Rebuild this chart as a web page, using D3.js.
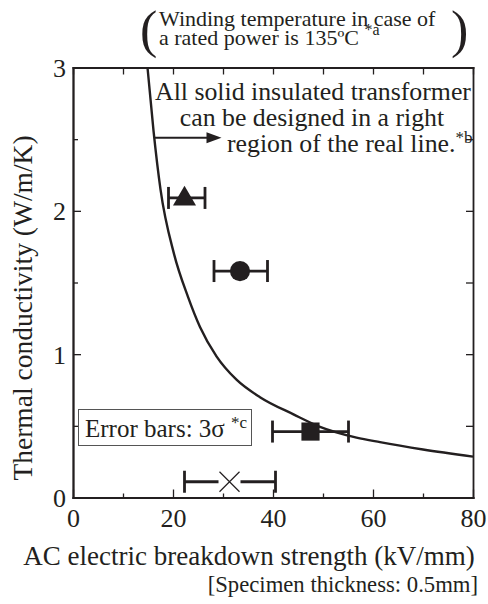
<!DOCTYPE html>
<html>
<head>
<meta charset="utf-8">
<script src="https://cdn.jsdelivr.net/npm/d3@7"></script>
<style>
body { margin: 0; background: #fff; }
.chart { width: 488px; height: 604px; }
text { font-family: "Liberation Serif", "Times New Roman", serif; fill: #231f20; }
.axis path, .axis line { stroke: #231f20; }
</style>
</head>
<body>
<div class="chart"></div>
<script>
//Everything hangs off one object like before
let chart = {};

//tick values
let xMajorTicks = [0, 20, 40, 60, 80];
let xMinorTicks = [10, 30, 50, 70];
let yMajorTicks = [0, 1, 2, 3];
let yMinorTicks = [0.5, 1.5, 2.5];

//the "real line"
let lineStrength = [14.9, 16.1, 17.5, 20.2, 23.0, 25.4, 28.7, 32.7, 37.4, 44.1, 49.4, 56.7, 61.4, 70, 80];
let lineConductivity = [3.0, 2.56, 2.15, 1.70, 1.40, 1.19, 0.985, 0.822, 0.700, 0.580, 0.493, 0.418, 0.386, 0.335, 0.285];

//measured materials with 3 sigma error bars
let markerShapes = ["triangle", "circle", "square", "cross"];
let markerStrength = [22.3, 33.4, 47.5, 31.3];
let markerConductivity = [2.09, 1.58, 0.46, 0.11];
let errorLow = [19.1, 28.2, 39.9, 22.3];
let errorHigh = [26.4, 38.9, 55.1, 40.5];

let ink = "#231f20";

init();

function init() {
    chart.points = markerShapes.map((s, i) => {
        return {
            shape: s,
            e: markerStrength[i],
            k: markerConductivity[i],
            lo: errorLow[i],
            hi: errorHigh[i]
        }
    });
    chart.line = lineStrength.map((e, i) => {
        return { e: e, k: lineConductivity[i] };
    });

    setDimensions();
    setScales();
    drawAxes();
    drawMarks();
    drawText();
}

function setDimensions() {
    chart.margin = { top: 67.5, right: 15, bottom: 106, left: 73 };
    chart.width = 400;
    chart.height = 430;
}

function setScales() {
    chart.xScale = d3.scaleLinear().domain([0, 80]).range([0, chart.width]);
    chart.yScale = d3.scaleLinear().domain([0, 3]).range([chart.height, 0]);
}

function styleAxis(g) {
    g.select(".domain").attr("stroke-width", 1.8).attr("stroke-linecap", "square");
    g.selectAll(".tick line").attr("stroke-width", 1.3);
}

function drawAxes() {
    chart.svg = d3.select(".chart").append("svg")
        .attr("width", 488)
        .attr("height", 604);

    chart.plot = chart.svg.append("g")
        .attr("transform", `translate(${chart.margin.left},${chart.margin.top})`);

    let allX = xMajorTicks.concat(xMinorTicks);
    let allY = yMajorTicks.concat(yMinorTicks);

    //bottom
    chart.plot.append("g").attr("class", "axis")
        .attr("transform", `translate(0,${chart.height})`)
        .call(d3.axisBottom(chart.xScale).tickValues(xMinorTicks).tickSize(-4).tickSizeOuter(0).tickFormat(""))
        .call(styleAxis);

    let xAx = chart.plot.append("g").attr("class", "axis")
        .attr("transform", `translate(0,${chart.height})`)
        .call(d3.axisBottom(chart.xScale).tickValues(xMajorTicks).tickSize(-8).tickSizeOuter(0).tickFormat(d3.format("d")))
        .call(styleAxis);
    xAx.attr("font-family", null);
    xAx.selectAll("text")
        .attr("y", 29)
        .attr("dy", null)
        .attr("font-size", 26)
        .attr("fill", ink);

    //top
    chart.plot.append("g").attr("class", "axis")
        .call(d3.axisTop(chart.xScale).tickValues(allX).tickSize(-7).tickSizeOuter(0).tickFormat(""))
        .call(styleAxis);

    //left
    chart.plot.append("g").attr("class", "axis")
        .call(d3.axisLeft(chart.yScale).tickValues(yMinorTicks).tickSize(-5).tickSizeOuter(0).tickFormat(""))
        .call(styleAxis);

    let yAx = chart.plot.append("g").attr("class", "axis")
        .call(d3.axisLeft(chart.yScale).tickValues(yMajorTicks).tickSize(-8).tickSizeOuter(0).tickFormat(d3.format("d")))
        .call(styleAxis);
    yAx.attr("font-family", null);
    yAx.selectAll("text")
        .attr("x", -7)
        .attr("dy", "0.34em")
        .attr("font-size", 26)
        .attr("fill", ink);

    //right
    chart.plot.append("g").attr("class", "axis")
        .attr("transform", `translate(${chart.width},0)`)
        .call(d3.axisRight(chart.yScale).tickValues(allY).tickSize(-7).tickSizeOuter(0).tickFormat(""))
        .call(styleAxis);
}

function drawMarks() {
    let x = chart.xScale, y = chart.yScale;

    let line = d3.line()
        .x(d => x(d.e))
        .y(d => y(d.k))
        .curve(d3.curveMonotoneX);

    chart.plot.append("path")
        .attr("d", line(chart.line))
        .attr("fill", "none")
        .attr("stroke", ink)
        .attr("stroke-width", 2.4);

    //arrow pointing into the allowed region
    let ay = y(2.51), ax0 = x(16.4), ax1 = x(29.7);
    chart.plot.append("line")
        .attr("x1", ax0).attr("x2", ax1 - 10)
        .attr("y1", ay).attr("y2", ay)
        .attr("stroke", ink).attr("stroke-width", 2.2);
    chart.plot.append("path")
        .attr("d", `M${ax1},${ay}L${ax1 - 15},${ay - 5.5}L${ax1 - 15},${ay + 5.5}Z`)
        .attr("fill", ink);

    let groups = chart.plot.selectAll(".pt")
        .data(chart.points)
        .enter()
        .append("g")
        .attr("class", "pt");

    //error bar stems (the cross leaves its centre open)
    groups.each(function(d) {
        let g = d3.select(this);
        let cy = y(d.k), cx = x(d.e);
        let segs = d.shape === "cross" ? [[x(d.lo), cx - 11], [cx + 11, x(d.hi)]] : [[x(d.lo), x(d.hi)]];
        segs.forEach(s => {
            g.append("line")
                .attr("x1", s[0]).attr("x2", s[1])
                .attr("y1", cy).attr("y2", cy)
                .attr("stroke", ink).attr("stroke-width", 2.8);
        });
        [d.lo, d.hi].forEach(v => {
            g.append("line")
                .attr("x1", x(v)).attr("x2", x(v))
                .attr("y1", cy - 11).attr("y2", cy + 11)
                .attr("stroke", ink).attr("stroke-width", 2.8);
        });

        if (d.shape === "cross") {
            g.append("path")
                .attr("d", `M${cx - 10},${cy - 10}L${cx + 10},${cy + 10}M${cx - 10},${cy + 10}L${cx + 10},${cy - 10}`)
                .attr("stroke", ink).attr("stroke-width", 1.2).attr("fill", "none");
        } else {
            let sym = { triangle: d3.symbolTriangle, circle: d3.symbolCircle, square: d3.symbolSquare }[d.shape];
            let size = { triangle: 230, circle: 320, square: 330 }[d.shape];
            g.append("path")
                .attr("d", d3.symbol(sym).size(size)())
                .attr("transform", `translate(${cx},${cy + (d.shape === "triangle" ? 1 : 0)})`)
                .attr("fill", ink);
        }
    });
}

function drawText() {
    let svg = chart.svg;

    //axis titles
    svg.append("text")
        .attr("x", 249).attr("y", 565)
        .attr("text-anchor", "middle")
        .attr("font-size", 27)
        .text("AC electric breakdown strength (kV/mm)");

    svg.append("text")
        .attr("transform", "translate(32,308) rotate(-90)")
        .attr("text-anchor", "middle")
        .attr("font-size", 27.5)
        .text("Thermal conductivity (W/m/K)");

    svg.append("text")
        .attr("x", 478).attr("y", 592)
        .attr("text-anchor", "end")
        .attr("font-size", 22.7)
        .text("[Specimen thickness: 0.5mm]");

    //bracketed note on top
    svg.append("text").attr("x", 140).attr("y", 46.5).attr("font-size", 52).text("(");
    svg.append("text").attr("x", 451).attr("y", 46.5).attr("font-size", 52).text(")");
    let t1 = svg.append("text")
        .attr("font-size", 22);
    t1.append("tspan").attr("x", 159).attr("y", 26).text("Winding temperature in case of");
    t1.append("tspan").attr("x", 159).attr("y", 45).text("a rated power is 135ºC ");
    t1.append("tspan").attr("font-size", 16).attr("dy", -10).text("*a");

    //region annotation
    let t3 = svg.append("text")
        .attr("font-size", 25.8);
    t3.append("tspan").attr("x", 313).attr("y", 100).attr("text-anchor", "middle")
        .text("All solid insulated transformer");
    t3.append("tspan").attr("x", 312).attr("y", 126).attr("text-anchor", "middle")
        .text("can be designed in a right");
    t3.append("tspan").attr("x", 227).attr("y", 152).attr("text-anchor", "start")
        .text("region of the real line.");
    t3.append("tspan").attr("font-size", 17).attr("dy", -9).text("*b");

    //error bar note
    svg.append("rect")
        .attr("x", 78.5).attr("y", 409.5)
        .attr("width", 173).attr("height", 36)
        .attr("fill", "#fff")
        .attr("stroke", "#555")
        .attr("stroke-width", 1);
    let t4 = svg.append("text")
        .attr("x", 85).attr("y", 437)
        .attr("font-size", 25);
    t4.append("tspan").text("Error bars: 3σ ");
    t4.append("tspan").attr("font-size", 17).attr("dy", -9).text("*c");
}
</script>
</body>
</html>
